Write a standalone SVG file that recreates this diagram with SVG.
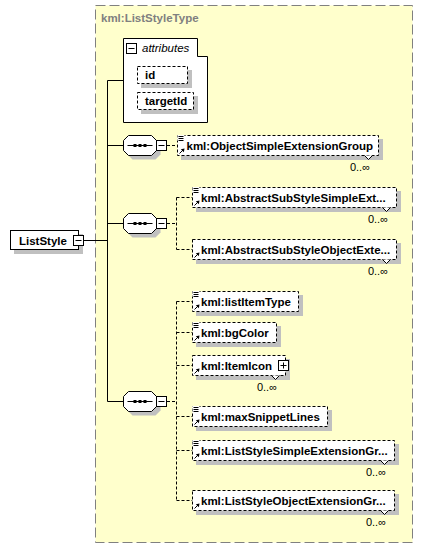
<svg xmlns="http://www.w3.org/2000/svg" width="424" height="548" viewBox="0 0 424 548">
<style>
.t{font-family:"Liberation Sans",Arial,sans-serif;font-size:11.5px;font-weight:bold;fill:#000}
.ti{font-family:"Liberation Sans",Arial,sans-serif;font-size:11.5px;font-weight:bold;fill:#808080}
.it{font-family:"Liberation Sans",Arial,sans-serif;font-size:11.5px;font-style:italic;fill:#000}
.c{font-family:"Liberation Sans",Arial,sans-serif;font-size:11px;fill:#000}
.sh{fill:#c0c0c0}
.el{fill:#fff;stroke:#000;stroke-width:1;stroke-dasharray:3,2}
.sol{fill:none;stroke:#000;stroke-width:1}
.dsh{fill:none;stroke:#000;stroke-width:1;stroke-dasharray:3,2}
.box{fill:#fff;stroke:#000;stroke-width:1}
.ln{stroke:#000;stroke-width:1;fill:none}
</style>
<defs>
<g id="minus"><rect x="0.5" y="0.5" width="10" height="10" class="box"/><path d="M2.5,5.5h6" class="ln"/></g>
<g id="plus"><rect x="0.5" y="0.5" width="10" height="10" class="box"/><path d="M2.5,5.5h6M5.5,2.5v6" class="ln"/></g>
<g id="seqsh"><polygon points="5,0 28,0 33,5 33,15 28,20 5,20 0,15 0,5" class="sh"/></g>
<g id="seq"><polygon points="5,0 28,0 33,5 33,15 28,20 5,20 0,15 0,5" class="box"/><path d="M4,10h25" class="ln"/><rect x="10" y="8.5" width="3" height="3"/><rect x="15" y="8.5" width="3" height="3"/><rect x="20" y="8.5" width="3" height="3"/></g>
<g id="icl"><rect x="0" y="-1" width="7" height="6" fill="#fff"/><path d="M1,0.5h5M1,2.5h5M1,4.5h5" class="ln"/></g>
<g id="icr"><rect x="-0.5" y="-0.5" width="7" height="7" fill="#fff"/><path d="M0.5,5.5L4,2" class="ln"/><path d="M5.5,0.5L1.8,1.2L4.8,4.2Z" fill="#000"/></g>
<path id="notch" d="M-14,0L-10,4L-6,0" fill="#fff" stroke="#000" stroke-width="1"/>
</defs>
<rect width="424" height="548" fill="#fff"/>

<g id="type-ListStyleType">
<rect x="95.5" y="5.5" width="317" height="537" fill="#ffffcc" stroke="#808080" stroke-width="1" stroke-dasharray="10,4"/>
<text x="101" y="22" class="ti">kml:ListStyleType</text>
</g>

<g id="connectors">
<path d="M107.5,80.5V401.5M107.5,80.5H123.5M107.5,145.5H123.5M107.5,223.5H123.5M107.5,401.5H123.5M84,240.5H107.5" class="sol"/>
<path d="M167,145.5H177.5M167,223.5H176.5M176.5,197.5V249.5M176.5,197.5H192.5M176.5,249.5H192.5M167,401.5H176.5M176.5,301.5V500.5M176.5,301.5H192.5M176.5,332.5H192.5M176.5,365.5H192.5M176.5,416.5H192.5M176.5,450.5H192.5M176.5,500.5H192.5" class="dsh"/>
</g>

<g id="node-ListStyle">
<rect x="14" y="234" width="69" height="20" class="sh"/>
<rect x="10.5" y="230.5" width="68" height="19" class="box"/>
<text x="19" y="244.5" class="t">ListStyle</text>
<use href="#minus" x="73" y="235"/>
</g>

<g id="node-attributes">
<path d="M123.5,38.5H197.5V56.5H207.5V122.5H123.5Z" class="box"/>
<use href="#minus" x="126" y="43"/>
<text x="142" y="52" class="it">attributes</text>
</g>

<g id="node-id">
<rect x="141" y="70" width="51" height="18" class="sh"/>
<rect x="137.5" y="66.5" width="50" height="17" class="el"/>
<text x="145" y="79" class="t">id</text>
</g>

<g id="node-targetId">
<rect x="141" y="96" width="57" height="18" class="sh"/>
<rect x="137.5" y="92.5" width="56" height="17" class="el"/>
<text x="145" y="105" class="t">targetId</text>
</g>

<g id="seq-1">
<use href="#seqsh" x="127.5" y="139.5"/>
<use href="#seq" x="123.5" y="135.5"/>
<use href="#minus" x="156" y="140"/>
</g>
<g id="seq-2">
<use href="#seqsh" x="127.5" y="217.5"/>
<use href="#seq" x="123.5" y="213.5"/>
<use href="#minus" x="156" y="218"/>
</g>
<g id="seq-3">
<use href="#seqsh" x="127.5" y="395.5"/>
<use href="#seq" x="123.5" y="391.5"/>
<use href="#minus" x="156" y="396"/>
</g>

<g id="node-ObjectSimpleExtensionGroup">
<rect x="181" y="139" width="202" height="21" class="sh"/>
<rect x="177.5" y="135.5" width="201" height="20" class="el"/>
<use href="#notch" x="378.5" y="155.5"/>
<use href="#icl" x="177.5" y="136"/>
<use href="#icr" x="179" y="148"/>
<text x="186.5" y="149.5" class="t">kml:ObjectSimpleExtensionGroup</text>
<text x="370" y="170.5" class="c" text-anchor="end">0..∞</text>
</g>

<g id="node-AbstractSubStyleSimpleExtensionGroup">
<rect x="196" y="191" width="205" height="21" class="sh"/>
<rect x="192.5" y="187.5" width="204" height="20" class="el"/>
<use href="#notch" x="396.5" y="207.5"/>
<use href="#icl" x="192.5" y="188"/>
<use href="#icr" x="194" y="200"/>
<text x="201" y="201.5" class="t">kml:AbstractSubStyleSimpleExt...</text>
<text x="388" y="222.5" class="c" text-anchor="end">0..∞</text>
</g>

<g id="node-AbstractSubStyleObjectExtensionGroup">
<rect x="196" y="243" width="205" height="21" class="sh"/>
<rect x="192.5" y="239.5" width="204" height="20" class="el"/>
<use href="#notch" x="396.5" y="259.5"/>
<use href="#icr" x="194" y="252"/>
<text x="201" y="253.5" class="t">kml:AbstractSubStyleObjectExte...</text>
<text x="388" y="274.5" class="c" text-anchor="end">0..∞</text>
</g>

<g id="node-listItemType">
<rect x="196" y="295" width="107" height="21" class="sh"/>
<rect x="192.5" y="291.5" width="106" height="20" class="el"/>
<use href="#icl" x="192.5" y="292"/>
<use href="#icr" x="194" y="304"/>
<text x="201" y="305.5" class="t">kml:listItemType</text>
</g>

<g id="node-bgColor">
<rect x="196" y="326" width="85" height="21" class="sh"/>
<rect x="192.5" y="322.5" width="84" height="20" class="el"/>
<use href="#icl" x="192.5" y="323"/>
<use href="#icr" x="194" y="335"/>
<text x="201" y="336.5" class="t">kml:bgColor</text>
</g>

<g id="node-ItemIcon">
<rect x="196" y="359" width="94" height="21" class="sh"/>
<rect x="192.5" y="355.5" width="93" height="20" class="el"/>
<use href="#notch" x="285.5" y="375.5"/>
<use href="#icr" x="194" y="368"/>
<text x="201" y="369.5" class="t">kml:ItemIcon</text>
<use href="#plus" x="278" y="360"/>
<text x="277" y="390.5" class="c" text-anchor="end">0..∞</text>
</g>

<g id="node-maxSnippetLines">
<rect x="196" y="410" width="136" height="21" class="sh"/>
<rect x="192.5" y="406.5" width="135" height="20" class="el"/>
<use href="#icl" x="192.5" y="407"/>
<use href="#icr" x="194" y="419"/>
<text x="201" y="420.5" class="t">kml:maxSnippetLines</text>
</g>

<g id="node-ListStyleSimpleExtensionGroup">
<rect x="196" y="444" width="203" height="21" class="sh"/>
<rect x="192.5" y="440.5" width="202" height="20" class="el"/>
<use href="#notch" x="394.5" y="460.5"/>
<use href="#icl" x="192.5" y="441"/>
<use href="#icr" x="194" y="453"/>
<text x="201" y="454.5" class="t">kml:ListStyleSimpleExtensionGr...</text>
<text x="386" y="475.5" class="c" text-anchor="end">0..∞</text>
</g>

<g id="node-ListStyleObjectExtensionGroup">
<rect x="196" y="494" width="203" height="21" class="sh"/>
<rect x="192.5" y="490.5" width="202" height="20" class="el"/>
<use href="#notch" x="394.5" y="510.5"/>
<use href="#icr" x="194" y="503"/>
<text x="201" y="504.5" class="t">kml:ListStyleObjectExtensionGr...</text>
<text x="386" y="525.5" class="c" text-anchor="end">0..∞</text>
</g>
</svg>
